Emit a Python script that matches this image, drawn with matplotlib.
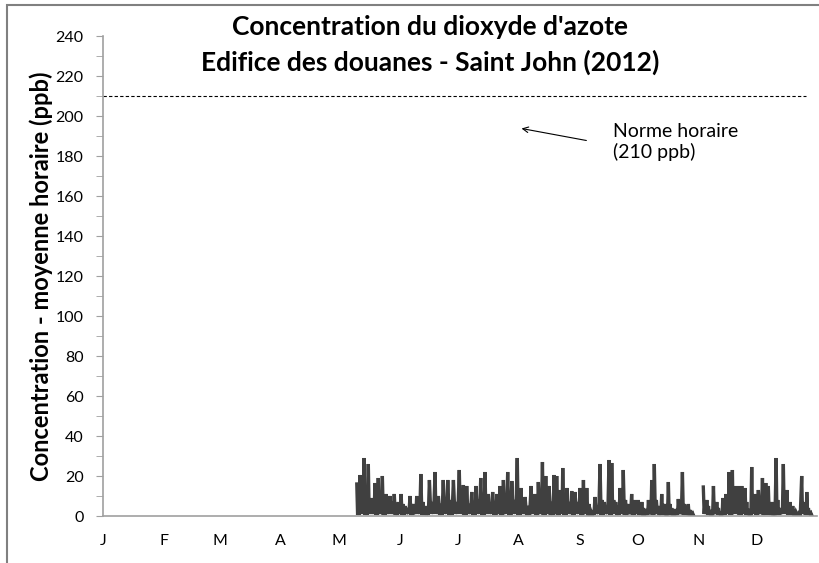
import numpy as np
import matplotlib
matplotlib.use("Agg")
import matplotlib.pyplot as plt
from matplotlib.patches import Rectangle

plt.rcParams['font.family'] = ['Lato', 'DejaVu Sans']

# month labels (placed at first day of each month, day-of-year)
month_labels = ['J', 'F', 'M', 'A', 'M', 'J', 'J', 'A', 'S', 'O', 'N', 'D']
month_start = [0, 31, 60, 91, 121, 152, 182, 213, 244, 274, 305, 335]

# hourly NO2: local peaks (day of year, ppb),
# the low after each peak and the top of the dense band between peaks
peak_days = [130.0, 131.7, 133.7, 135.9, 137.7, 139.3, 141.0, 143.1, 145.0, 147.0,
             149.2, 151.3, 152.7, 154.7, 157.3, 159.0, 160.7, 162.8, 165.0, 167.2,
             170.1, 171.8, 174.3, 176.6, 179.5, 182.5, 184.6, 186.3, 188.9, 191.1,
             193.5, 195.7, 197.4, 199.6, 201.7, 203.4, 205.1, 207.3, 209.4, 212.2,
             214.1, 216.2, 219.3, 221.3, 223.0, 225.1, 226.8, 228.5, 231.1, 232.4,
             234.1, 235.5, 237.6, 240.1, 241.8, 244.4, 246.1, 247.8, 250.0, 252.0,
             254.6, 256.8, 259.2, 260.6, 262.6, 264.9, 266.5, 268.8, 270.8, 272.5,
             274.2, 276.0, 277.7, 279.4, 281.1, 282.4, 284.5, 286.2, 287.9, 289.6,
             291.3, 293.0, 294.7, 296.8, 298.7, 299.8, 301.6,
             307.5, 309.3, 311.0, 312.7, 314.4, 316.1, 317.5, 319.2, 320.7, 322.4,
             323.8, 325.5, 327.2, 328.9, 330.6, 332.3, 334.0, 335.7, 337.8, 339.5,
             340.8, 342.6, 344.8, 346.5, 348.5, 350.3, 352.0, 353.3, 355.0, 357.9,
             359.6, 360.5, 362.2]
peaks = [16, 20.5, 29, 26, 9, 16.5, 19, 20, 11, 10,
         11, 7, 11, 5, 10, 6, 10, 21, 5, 18,
         22, 10, 18, 18, 18, 23, 15.5, 15, 12, 15,
         19, 22, 11, 12, 11, 15, 18, 22, 17.5, 29,
         14, 9.5, 15, 11, 17, 27, 20, 15, 20.5, 20,
         13, 24, 14, 12.5, 12, 14, 18, 14, 2, 9.5,
         26, 7, 28, 26.5, 7, 14, 23, 6, 11, 8,
         8, 7, 3.5, 8, 18, 26, 5, 11, 6, 17,
         4, 3.5, 8.5, 22, 5, 6, 2,
         14.5, 8, 3, 15, 7, 2, 9, 11, 22, 23,
         15, 15, 15, 14, 3.5, 24.5, 11, 13, 19, 16.5,
         15, 7, 29, 4, 26, 13, 7, 5, 2, 20,
         7, 12, 2.5]
lows = [0.5, 1, 0.5, 1, 1, 0.5, 1, 0.5, 1, 1,
        0.5, 1, 0.5, 1, 0.5, 1, 1, 0.5, 0.5, 1,
        1, 0.5, 1, 0.5, 1, 1, 0.5, 1, 0.5, 1,
        0.5, 1, 1, 0.5, 1, 0.5, 1, 0.5, 1, 0.5,
        1, 0.5, 1, 0.5, 1, 0.5, 1, 0.5, 1, 0.5,
        1, 0.5, 1, 0.5, 1, 0.5, 1, 0.3, 0.5, 1,
        0.5, 1, 0.5, 1, 0.5, 1, 0.5, 1, 0.5, 1,
        0.5, 0.3, 0.5, 1, 0.5, 1, 0.5, 0.5, 0.3, 0.5,
        0.3, 0.5, 1, 0.5, 0.5, 0.3, 0.3,
        1, 0.5, 0.3, 1, 0.5, 0.3, 0.5, 1, 0.5, 1,
        1, 0.5, 1, 0.5, 0.3, 1, 0.5, 1, 0.5, 1,
        0.5, 0.3, 0.5, 1, 1, 0.5, 0.5, 0.3, 0.5, 1,
        0.5, 0.5, 0.3]
band = [8, 9, 7, 8, 6, 8, 9, 7, 6, 7,
        6, 5, 6, 4, 6, 5, 6, 7, 4, 7,
        8, 6, 7, 8, 7, 8, 7, 6, 7, 8,
        8, 7, 6, 7, 6, 7, 8, 9, 8, 9,
        7, 5, 7, 6, 8, 9, 8, 7, 9, 8,
        7, 8, 7, 6, 7, 7, 8, 6, 1.5, 5,
        8, 4, 9, 8, 5, 7, 8, 4, 6, 5,
        5, 4, 3, 5, 7, 8, 3, 6, 4, 6,
        3, 2.5, 5, 6, 3, 3, 1,
        7, 5, 2.5, 6, 4, 1.5, 6, 7, 9, 9,
        8, 8, 8, 7, 3, 9, 7, 7, 8, 8,
        6, 4, 8, 3, 8, 6, 4, 3, 1.5, 6,
        5, 4, 1]
gap_after_day = 301.6   # no data from about Oct 29 to Nov 2

norm_value = 210
norm_end_day = 360

# build the series: peak, low, band top, low, next peak ...
xs, ys = [], []
for i, (d, p, lo, b) in enumerate(zip(peak_days, peaks, lows, band)):
    if d == gap_after_day or i + 1 == len(peak_days):
        step = 1.2
    else:
        step = peak_days[i + 1] - d
    xs += [d, d + step * 0.25, d + step * 0.5, d + step * 0.75]
    ys += [p, lo, b, lo]
    if d == gap_after_day:
        xs.append(d + step)
        ys.append(np.nan)

fig = plt.figure(figsize=(8.2, 5.63), dpi=100)
ax = fig.add_axes([103 / 820, 1 - 516 / 563, 714.5 / 820, 480 / 563])

ax.plot(xs, ys, color='#404040', lw=2.4, solid_joinstyle='miter')
ax.plot([0, norm_end_day], [norm_value, norm_value], color='black', lw=0.8,
        ls=(0, (3, 2)))

ax.annotate('', xy=(213, 194), xytext=(249, 187.5),
            arrowprops=dict(arrowstyle='->', color='black', lw=0.8))
ax.text(261, 187, 'Norme horaire\n(210 ppb)', fontsize=14, va='center',
        ha='left', linespacing=1.2)

ax.set_xlim(0, 366)
ax.set_ylim(0, 240)
ax.set_yticks(np.arange(0, 241, 20))
ax.set_yticks(np.arange(10, 240, 20), minor=True)
ax.set_xticks(month_start)
ax.set_xticklabels(month_labels)
ax.tick_params(axis='y', which='both', direction='out', length=5, color='#a0a0a0',
               labelsize=11.5, pad=9)
ax.tick_params(axis='x', length=0, labelsize=11.5, pad=13)

for side in ['top', 'right']:
    ax.spines[side].set_visible(False)
for side in ['left', 'bottom']:
    ax.spines[side].set_color('#a0a0a0')
    ax.spines[side].set_linewidth(1.2)

ax.set_ylabel('Concentration - moyenne horaire (ppb)', fontsize=17,
              fontweight='bold', labelpad=2)

fig.text(430 / 820, 1 - 27 / 563, "Concentration du dioxyde d'azote",
         fontsize=19, fontweight='bold', ha='center', va='center')
fig.text(430 / 820, 1 - 62 / 563, "Edifice des douanes - Saint John (2012)",
         fontsize=19, fontweight='bold', ha='center', va='center')

# chart-area border (partly outside the picture, as in the original)
fig.patches.append(Rectangle((7 / 820, -0.2), 1.2, 1.2 - 5 / 563,
                             transform=fig.transFigure, fill=False,
                             edgecolor='#808080', lw=1.5))

fig.savefig('out.png', dpi=100)
